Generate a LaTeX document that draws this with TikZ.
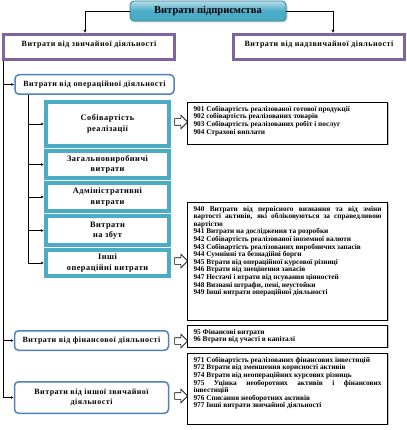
\documentclass[tikz,border=0pt]{standalone}
\usepackage{fontspec}
\setmainfont{Liberation Serif}
\newfontfamily\spacedfont[LetterSpace=6]{Liberation Serif}
\usetikzlibrary{arrows.meta,shapes.arrows,shadows}
\definecolor{aqualine}{HTML}{4BACC6}
\definecolor{aquadark}{HTML}{31859C}
\definecolor{aqualight}{HTML}{B6DDE8}
\definecolor{violetline}{HTML}{8064A2}
\definecolor{blueline}{HTML}{4F81BD}
\newcommand{\codes}[2]{\begin{minipage}[c][#1][t]{188pt}\fontsize{7.3}{7.6}\selectfont\bfseries\hyphenpenalty=10000\relax #2\end{minipage}}
\tikzset{
  conn/.style={-{Latex[length=3pt,width=3pt]}, line width=0.6pt},
  headbox/.style={draw=aquadark, line width=0.8pt, rounded corners=4pt,
    top color=aqualight, bottom color=aqualine, middle color=aqualine,
    drop shadow={shadow xshift=1.5pt, shadow yshift=-1.5pt, opacity=.4},
    font=\bfseries\fontsize{10.5}{12}\selectfont},
  mainbox/.style={draw=violetline, line width=3pt, fill=white, minimum width=171pt,
    minimum height=25pt, text depth=6pt, font=\spacedfont\bfseries\fontsize{8}{9}\selectfont},
  actbox/.style={draw=blueline, line width=1.5pt, rounded corners=4pt, fill=white,
    align=center, font=\spacedfont\bfseries\fontsize{8}{9.5}\selectfont},
  stackbox/.style={draw=aqualine, line width=4pt, fill=white, minimum width=123pt,
    align=center, font=\spacedfont\bfseries\fontsize{8.3}{10.5}\selectfont},
  codebox/.style={draw, line width=0.8pt, fill=white, inner xsep=6pt, inner ysep=4pt,
    drop shadow={shadow xshift=1pt, shadow yshift=-1pt, opacity=.5}},
  fatarrow/.style={single arrow, draw, line width=0.6pt, fill=white, inner sep=0pt,
    text width=6pt, text height=3pt, text depth=3pt, minimum height=13pt,
    single arrow head extend=3.5pt, single arrow tip angle=90}
}
\begin{document}
\begin{tikzpicture}[x=1pt,y=-1pt]
  \useasboundingbox (0,0) rectangle (406,430);
  % top level
  \node[headbox, minimum width=156pt, minimum height=20pt] (firm) at (208,11) {Витрати підприємства};
  \node[mainbox] (ordinary) at (89,47) {Витрати від звичайної діяльності};
  \node[mainbox] (extra) at (319,47) {Витрати від надзвичайної діяльності};
  \draw[conn] (firm.west) -| ([xshift=-4pt]ordinary.north);
  \draw[conn] (firm.east) -| ([xshift=14pt]extra.north);
  % kinds of ordinary activity
  \node[actbox, minimum width=159pt, minimum height=19.5pt] (oper) at (94.5,84.5) {Витрати від операційної діяльності};
  \node[actbox, minimum width=154pt, minimum height=19.5pt] (fin) at (91.5,340.5) {Витрати від фінансової діяльності};
  \node[actbox, minimum width=154pt, minimum height=31.5pt] (otherord) at (91.5,397.5) {Витрати від іншої звичайної\\діяльності};
  \coordinate (trunk) at ([xshift=1pt]ordinary.south west);
  \foreach \n in {oper,fin,otherord}
    \draw[conn] (trunk) |- (\n.west);
  % operating expenses
  \node[stackbox, minimum height=44pt] (cost) at (107.5,124) {Собівартість\\реалізації};
  \node[stackbox, minimum height=27pt] (overhead) at (107.5,164.5) {Загальновиробничі\\витрати};
  \node[stackbox, minimum height=28pt] (admin) at (107.5,197) {Адміністративні\\витрати};
  \node[stackbox, minimum height=29pt] (sales) at (107.5,230.5) {Витрати\\на збут};
  \node[stackbox, minimum height=26pt] (otherop) at (107.5,263) {Інші\\операційні витрати};
  \coordinate (optrunk) at ([xshift=14pt]oper.south west);
  \foreach \n in {cost,overhead,admin,sales,otherop}
    \draw[conn] (optrunk) |- (\n.west);
  % accounts
  \node[codebox] (costcodes) at (287.5,123) {\codes{34pt}{%
    901 Собівартість реалізованої готової продукції\par
    902 собівартість реалізованих товарів\par
    903 Собівартість реалізованих робіт і послуг\par
    904 Страхові виплати}};
  \node[codebox] (opcodes) at (287.5,261) {\codes{110pt}{%
    940 Витрати від первісного визнання та від зміни\linebreak
    вартості активів, які обліковуються за справедливою\linebreak
    вартістю\par
    941 Витрати на дослідження та розробки\par
    942 Собівартість реалізованої іноземної валюти\par
    943 Собівартість реалізованих виробничих запасів\par
    944 Сумнівні та безнадійні борги\par
    945 Втрати від операційної курсової різниці\par
    946 Втрати від знецінення запасів\par
    947 Нестачі і втрати від псування цінностей\par
    948 Визнані штрафи, пені, неустойки\par
    949 Інші витрати операційної діяльності}};
  \node[codebox] (fincodes) at (287.5,336) {\codes{14pt}{%
    95 Фінансові витрати\par
    96 Втрати від участі в капіталі}};
  \node[codebox] (othercodes) at (287.5,388.5) {\codes{63pt}{%
    971 Собівартість реалізованих фінансових інвестицій\par
    972 Втрати від зменшення корисності активів\par
    974 Втрати від неопераційних курсових різниць\par
    975 Уцінка необоротних активів і фінансових\linebreak
    інвестицій\par
    976 Списання необоротних активів\par
    977 Інші витрати звичайної діяльності}};
  \node[fatarrow] (toCost) at (179.5,122) {};
  \node[fatarrow] (toOp) at (179.5,261) {};
  \node[fatarrow] (toFin) at (179.5,341) {};
  \node[fatarrow] (toOther) at (179.5,396) {};
\end{tikzpicture}
\end{document}
